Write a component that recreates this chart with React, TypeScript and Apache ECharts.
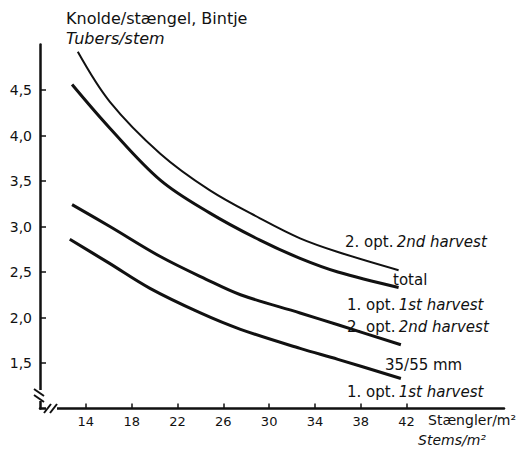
import React, { useEffect, useRef } from "react";
import * as echarts from "echarts";

// Stem density (stems/m²) and tubers per stem for Bintje
const upperSecondStems = [13.3, 16.1, 20.5, 24.8, 29.2, 32.7, 36, 41.3];
const upperSecondValues = [4.92, 4.37, 3.8, 3.4, 3.09, 2.87, 2.72, 2.52];

const totalStems = [12.8, 16.1, 20.5, 24.8, 29.2, 32.7, 36, 41.3];
const totalValues = [4.56, 4.08, 3.51, 3.15, 2.85, 2.65, 2.5, 2.33];

const lowerSecondStems = [12.8, 16.1, 20.5, 24.5, 27.5, 32.7, 36, 41.5];
const lowerSecondValues = [3.24, 3.0, 2.67, 2.42, 2.25, 2.05, 1.92, 1.7];

const gradeStems = [12.6, 16, 19.6, 24, 27.5, 32.7, 36, 41.5];
const gradeValues = [2.86, 2.6, 2.32, 2.05, 1.87, 1.66, 1.54, 1.33];

const xTickValues = [14, 18, 22, 26, 30, 34, 38, 42];
const yTickValues = [1.5, 2.0, 2.5, 3.0, 3.5, 4.0, 4.5];

const FONT = "DejaVu Sans";
const INK = "#111";

const pairs = (xs: number[], ys: number[]) => xs.map((x, i) => [x, ys[i]]);

const richLabel = (plain: string, italic: string, x: number, y: number) => ({
  type: "text",
  x,
  y,
  z: 110,
  style: {
    text: `{n|${plain}} {i|${italic}}`,
    verticalAlign: "middle",
    rich: {
      n: { fontFamily: FONT, fontSize: 15, fill: INK },
      i: { fontFamily: FONT, fontSize: 15, fontStyle: "italic", fill: INK },
    },
  },
});

const plainText = (text: string, x: number, y: number, size: number, italic = false) => ({
  type: "text",
  x,
  y,
  z: 110,
  style: {
    text,
    fontFamily: FONT,
    fontSize: size,
    fontStyle: italic ? "italic" : "normal",
    fill: INK,
    verticalAlign: "middle",
  },
});

export default function App() {
  const ref = useRef<HTMLDivElement>(null);

  useEffect(() => {
    if (!ref.current) return;
    const chart = echarts.init(ref.current, undefined, { renderer: "svg" });

    const line = (data: number[][], width: number) => ({
      type: "line",
      data,
      smooth: 0.35,
      showSymbol: false,
      lineStyle: { color: INK, width },
      silent: true,
    });

    chart.setOption({
      animation: false,
      backgroundColor: "#fff",
      grid: { left: 40, right: 21, top: 44.5, bottom: 45.5 },
      xAxis: {
        type: "value",
        min: 10,
        max: 50.5,
        splitLine: { show: false },
        axisLine: { show: true, lineStyle: { color: INK, width: 2.5 } },
        axisTick: {
          show: true,
          inside: true,
          length: 5,
          customValues: xTickValues,
          lineStyle: { color: INK, width: 1.5 },
        },
        axisLabel: {
          customValues: xTickValues,
          fontFamily: FONT,
          fontSize: 13,
          color: INK,
          margin: 6,
        },
      },
      yAxis: {
        type: "value",
        min: 1.0,
        max: 5.0,
        splitLine: { show: false },
        axisLine: { show: true, lineStyle: { color: INK, width: 2.5 } },
        axisTick: {
          show: true,
          inside: true,
          length: 6,
          customValues: yTickValues,
          lineStyle: { color: INK, width: 1.5 },
        },
        axisLabel: {
          customValues: yTickValues,
          fontFamily: FONT,
          fontSize: 14,
          color: INK,
          margin: 8,
          formatter: (v: number) => v.toFixed(1).replace(".", ","),
        },
      },
      series: [
        line(pairs(upperSecondStems, upperSecondValues), 2),
        line(pairs(totalStems, totalValues), 3),
        line(pairs(lowerSecondStems, lowerSecondValues), 3),
        line(pairs(gradeStems, gradeValues), 3),
      ],
      graphic: [
        // axis breaks near the origin
        { type: "rect", z: 100, shape: { x: 34, y: 390, width: 12, height: 11 }, style: { fill: "#fff" } },
        { type: "line", z: 101, shape: { x1: 34, y1: 389, x2: 44, y2: 396 }, style: { stroke: INK, lineWidth: 2 } },
        { type: "line", z: 101, shape: { x1: 34, y1: 395, x2: 44, y2: 402 }, style: { stroke: INK, lineWidth: 2 } },
        { type: "rect", z: 100, shape: { x: 46, y: 403, width: 11, height: 11 }, style: { fill: "#fff" } },
        { type: "line", z: 101, shape: { x1: 44, y1: 413, x2: 51, y2: 404 }, style: { stroke: INK, lineWidth: 2 } },
        { type: "line", z: 101, shape: { x1: 50, y1: 413, x2: 57, y2: 404 }, style: { stroke: INK, lineWidth: 2 } },

        plainText("Knolde/stængel, Bintje", 66, 18, 16),
        plainText("Tubers/stem", 66, 38, 16, true),

        richLabel("2. opt.", "2nd harvest", 345, 242),
        plainText("total", 393, 280, 15),
        richLabel("1. opt.", "1st harvest", 347, 305),
        richLabel("2. opt.", "2nd harvest", 347, 327),
        plainText("35/55 mm", 385, 365, 15),
        richLabel("1. opt.", "1st harvest", 347, 392),

        plainText("Stængler/m²", 428, 420, 14),
        plainText("Stems/m²", 418, 440, 14, true),
      ],
    });

    return () => chart.dispose();
  }, []);

  return (
    <div
      ref={ref}
      style={{ position: "fixed", left: 0, top: 0, width: 525, height: 454 }}
    />
  );
}
